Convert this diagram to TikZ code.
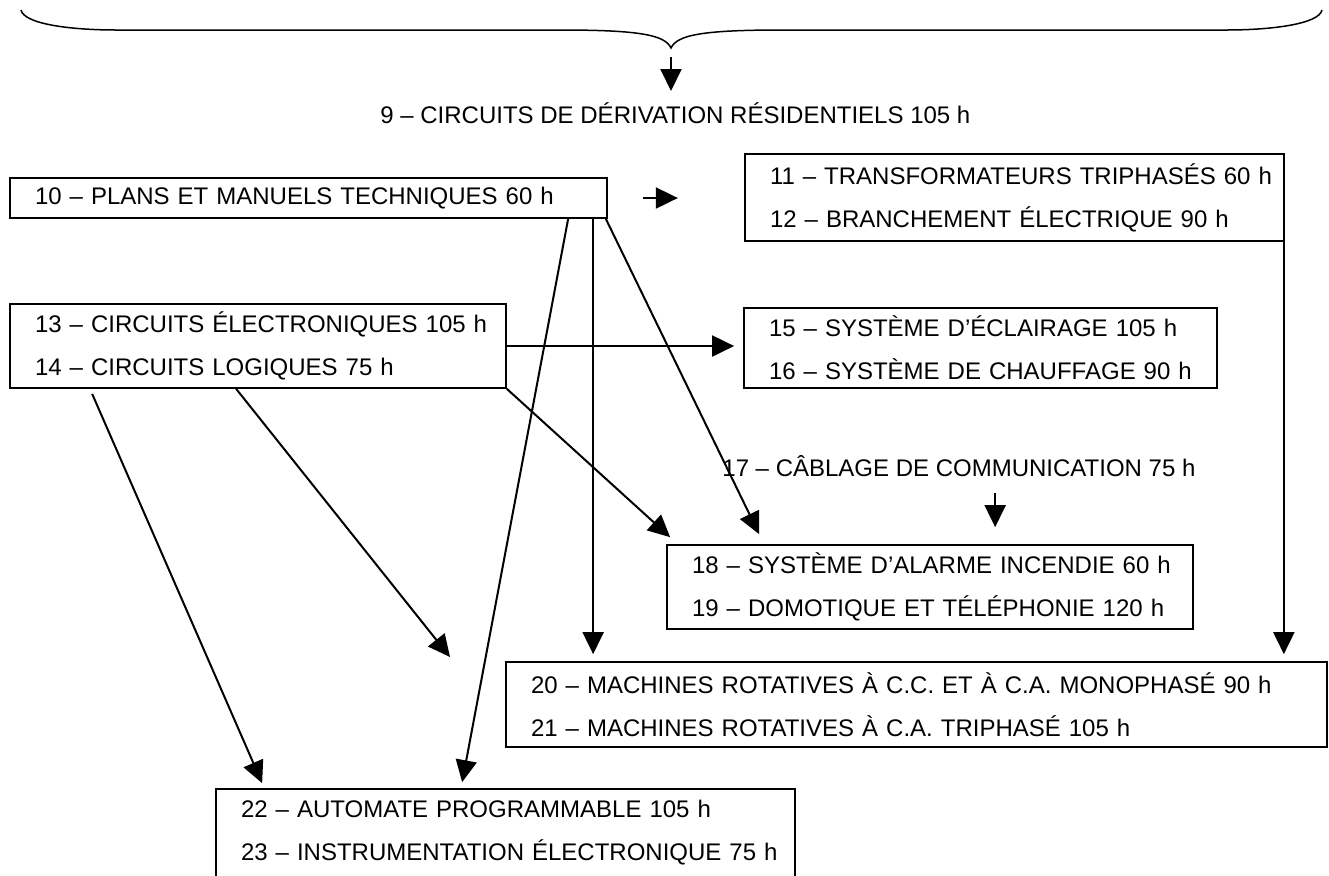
\documentclass[tikz,border=0pt]{standalone}
\usepackage{fontspec}
\setmainfont{Liberation Sans}
\usetikzlibrary{arrows.meta,calc}
\newcommand{\modfont}{\fontsize{12}{21.5}\selectfont}
\newcommand{\twolines}[2]{\mbox{#1}\\\mbox{#2}}
\tikzstyle{module}=[draw, line width=.85pt, align=left, inner xsep=12.5pt, inner ysep=0pt, font=\modfont]
\tikzstyle{title}=[inner sep=0pt, font=\modfont, anchor=base west]
\tikzstyle{arr}=[-{Triangle[length=11pt,width=10.5pt]}, line width=1pt]
\tikzset{y=-0.5pt}
\tikzset{x=0.5pt}

\begin{document}
\begin{tikzpicture}
  \useasboundingbox (0,0) rectangle (1329,875);
  %% Brace over everything
  \draw[line width=.75pt] (21,10) .. controls (24,24) and (70,30) .. (117,30) -- (560,30)
    .. controls (640,30) and (665,35) .. (671,48)
    .. controls (677,35) and (702,30) .. (782,30) -- (1226,30)
    .. controls (1272,30) and (1319,24) .. (1322,10);
  \coordinate (tip) at (671,48);

  %% Modules
  \node[title] (n9) at (380,123) {9 – CIRCUITS DE DÉRIVATION RÉSIDENTIELS 105 h};
  \node[module,text width=273.5pt,minimum height=20pt] (b10) at (308.5,198) {\mbox{10 – PLANS ET MANUELS TECHNIQUES 60 h}};
  \node[module,text width=244.5pt,minimum height=43.5pt] (b11) at (1014.5,197.5) {\twolines{11 – TRANSFORMATEURS TRIPHASÉS 60 h}{12 – BRANCHEMENT ÉLECTRIQUE 90 h}};
  \node[module,text width=223pt,minimum height=42pt] (b13) at (258,346) {\twolines{13 – CIRCUITS ÉLECTRONIQUES 105 h}{14 – CIRCUITS LOGIQUES 75 h}};
  \node[module,text width=211.5pt,minimum height=40pt] (b15) at (980.5,348) {\twolines{15 – SYSTÈME D’ÉCLAIRAGE 105 h}{16 – SYSTÈME DE CHAUFFAGE 90 h}};
  \node[title] (n17) at (722,476) {17 – CÂBLAGE DE COMMUNICATION 75 h};
  \node[module,text width=238pt,minimum height=42pt] (b18) at (930,587) {\twolines{18 – SYSTÈME D’ALARME INCENDIE 60 h}{19 – DOMOTIQUE ET TÉLÉPHONIE 120 h}};
  \node[module,text width=385.5pt,minimum height=42.5pt] (b20) at (916.5,704.5) {\twolines{20 – MACHINES ROTATIVES À C.C. ET À C.A. MONOPHASÉ 90 h}{21 – MACHINES ROTATIVES À C.A. TRIPHASÉ 105 h}};
  \node[module,text width=264.5pt,minimum height=44pt] (b22) at (505.5,833) {\twolines{22 – AUTOMATE PROGRAMMABLE 105 h}{23 – INSTRUMENTATION ÉLECTRONIQUE 75 h}};
  \coordinate (loose) at (450,657);

  %% Arrows
  \draw[arr] ($(tip)+(0,9)$) -- ($(tip)+(0,43)$);
  \draw[arr] ($(b10.east)+(35,0)$) -- ($(b10.east)+(70,0)$);
  \draw[arr] ($(b10.south west)+(559,0)$) -- ($(b22.north west)+(247,-6)$);
  \draw[arr] ($(b10.south west)+(584,0)$) -- ($(b20.north west)+(88,-7)$);
  \draw[arr] ($(b10.south east)+(-2,0)$) -- ($(b18.north west)+(93,-10)$);
  \draw[arr] ($(b11.south east)+(-1,0)$) -- ($(b20.north east)+(-44,-7)$);
  \draw[arr] (b13.east) -- ($(b13.east -| b15.west)+(-9,0)$);
  \draw[arr] (b13.south east) -- ($(b18.north west)+(4,-7)$);
  \draw[arr] ($(b13.south west)+(83,5)$) -- ($(b22.north west)+(47,-5)$);
  \draw[arr] ($(b13.south west)+(227,0)$) -- (loose);
  \draw[arr] ($(b18.north west)+(329,-51)$) -- ($(b18.north west)+(329,-17)$);
\end{tikzpicture}
\end{document}
